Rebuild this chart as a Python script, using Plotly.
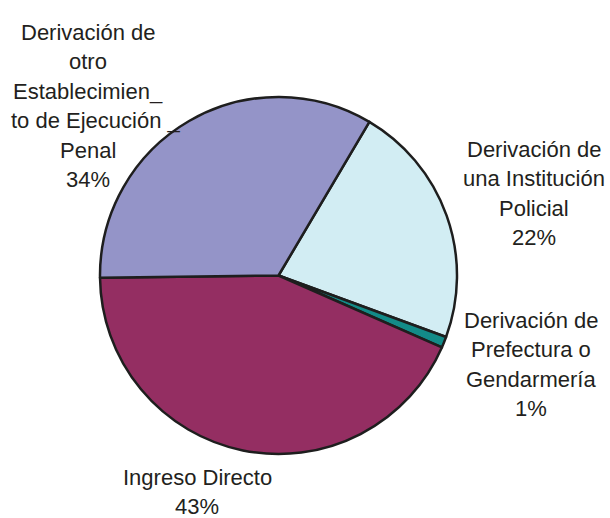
import plotly.graph_objects as go

# ---- data ----
categories = [
    "Derivación de una Institución Policial",
    "Derivación de Prefectura o Gendarmería",
    "Ingreso Directo",
    "Derivación de otro Establecimiento de Ejecución Penal",
]
values = [22.1, 1.0, 43.2, 33.7]
label_lines = [
    ["Derivación de", "una Institución", "Policial"],
    ["Derivación de", "Prefectura o", "Gendarmería"],
    ["Ingreso Directo"],
    ["Derivación de", "otro", "Establecimien_", "to de Ejecución _", "Penal"],
]
colors = ["#D2EDF3", "#138B88", "#942E62", "#9494C8"]

# ---- layout ----
W, H = 610, 518
cx, cy, r = 278.5, 275.5, 178.5
font_family = "Liberation Sans Narrow, Arial Narrow, Liberation Sans, Arial, sans-serif"
font_size = 22
text_color = "#231F20"
line_gap = 29.5
# label anchor: (center x px, first baseline y px)
label_pos = [(534, 157), (531, 328), (197, 485), (88, 40)]
line_dx = {(3, 3): 8}

fig = go.Figure(go.Pie(
    labels=categories,
    values=values,
    sort=False,
    direction="clockwise",
    rotation=30.6,
    textinfo="none",
    hoverinfo="label+percent",
    marker=dict(colors=colors, line=dict(color="#1E1E1E", width=2.5)),
    domain=dict(x=[(cx - r) / W, (cx + r) / W],
                y=[(H - cy - r) / H, (H - cy + r) / H]),
    showlegend=False,
))

total = sum(values)
annotations = []
for i, lines in enumerate(label_lines):
    x0, b0 = label_pos[i]
    all_lines = lines + [f"{round(values[i] / total * 100)}%"]
    for j, txt in enumerate(all_lines):
        base = b0 + j * line_gap
        yc = base - 0.35 * font_size
        annotations.append(dict(
            x=(x0 + line_dx.get((i, j), 0)) / W, y=1 - yc / H,
            xref="paper", yref="paper", xanchor="center", yanchor="middle",
            text=txt, showarrow=False,
            font=dict(family=font_family, size=font_size, color=text_color),
        ))

fig.update_layout(
    width=W, height=H,
    margin=dict(l=0, r=0, t=0, b=0),
    paper_bgcolor="white", plot_bgcolor="white",
    annotations=annotations,
)
fig.write_html("out.html", config={"displayModeBar": False},
               post_script="document.body.style.margin='0';")
